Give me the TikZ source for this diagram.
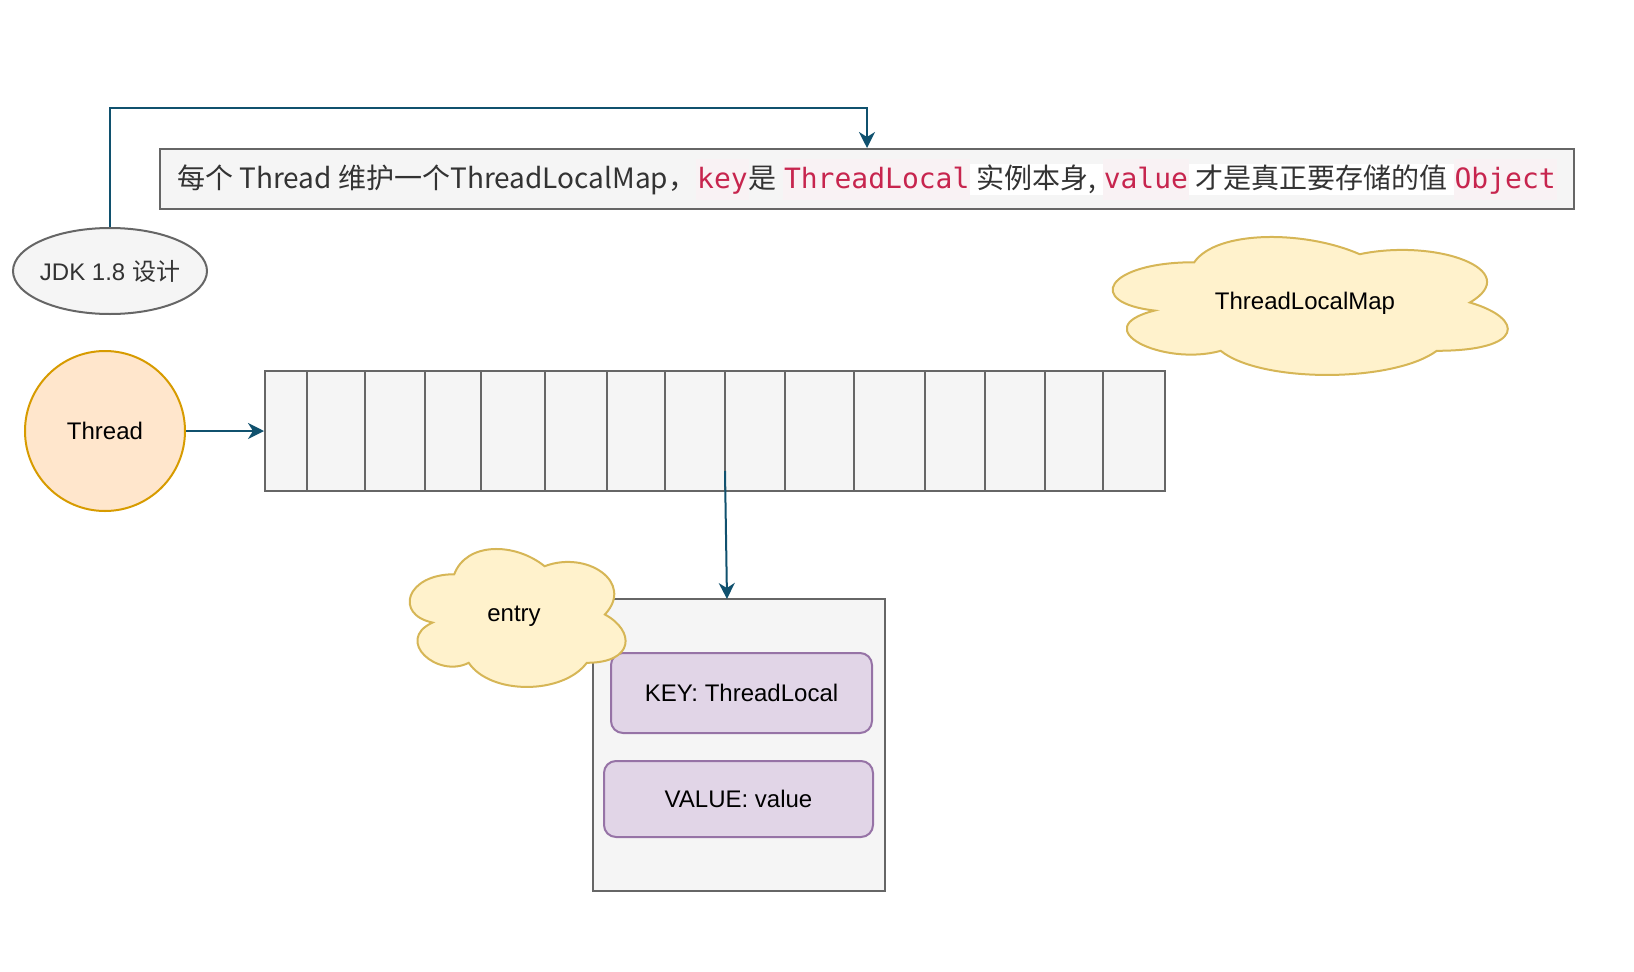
\documentclass[tikz,border=0pt]{standalone}
\usepackage{fontspec}
\setmainfont{Liberation Sans}
\newfontfamily\cjk{Noto Sans CJK SC}
\newfontfamily\codefont{DejaVu Sans Mono}
\usepackage{xcolor}
\usepackage{tikz}
\usetikzlibrary{shapes}
\usetikzlibrary{arrows.meta}

\definecolor{linkblue}{HTML}{10516E}
\definecolor{boxgray}{HTML}{F5F5F5}
\definecolor{edgegray}{HTML}{666666}
\definecolor{textgray}{HTML}{333333}
\definecolor{threadfill}{HTML}{FFE6CC}
\definecolor{threadedge}{HTML}{D79B00}
\definecolor{cloudfill}{HTML}{FFF2CC}
\definecolor{cloudedge}{HTML}{D6B656}
\definecolor{slotfill}{HTML}{E1D5E7}
\definecolor{slotedge}{HTML}{9673A6}
\definecolor{codered}{HTML}{C7254E}
\definecolor{codebg}{HTML}{F9F2F4}

\newcommand{\codetxt}[1]{{\setlength{\fboxsep}{0pt}\colorbox{codebg}{\rule[-11pt]{0pt}{41pt}\kern1pt\codefont\color{codered}#1\kern1pt}}}
\newcommand{\hltxt}[1]{{\setlength{\fboxsep}{0pt}\colorbox{white}{\rule[-6pt]{0pt}{31pt}\cjk #1}}}

% x0, y0, w, h of the cloud's cell
\newcommand{\cloudshape}[4]{%
    \begin{scope}[shift = {(#1, #2)}, x = #3pt, y = -#4pt]
        \filldraw[cloudline] (0.25, 0.25) .. controls (0.05, 0.25) and (0, 0.5) .. (0.16, 0.55)
            .. controls (0, 0.66) and (0.18, 0.9) .. (0.31, 0.8)
            .. controls (0.4, 1) and (0.7, 1) .. (0.8, 0.8)
            .. controls (1, 0.8) and (1, 0.6) .. (0.875, 0.5)
            .. controls (1, 0.3) and (0.8, 0.1) .. (0.625, 0.2)
            .. controls (0.5, 0.05) and (0.3, 0.05) .. (0.25, 0.25) -- cycle;
    \end{scope}}

\tikzset{
    graybox/.style = {draw = edgegray, fill = boxgray, line width = 2pt, inner sep = 0pt},
    cloudline/.style = {draw = cloudedge, fill = cloudfill, line width = 2pt},
    field/.style = {draw = slotedge, fill = slotfill, line width = 2pt, rounded corners = 12pt,
        inner sep = 0pt, font = \fontsize{24}{28}\selectfont},
    link/.style = {draw = linkblue, line width = 2pt, -{Stealth[length = 16pt, width = 16pt, inset = 5pt]}},
}

\begin{document}
\begin{tikzpicture}[x = 1pt, y = -1pt]
                    \useasboundingbox (0, 0) rectangle (1634, 972);

                    \node[graybox, minimum width = 1414pt, minimum height = 60pt, text = textgray,
                        font = \fontsize{28}{34}\selectfont] (note) at (867, 179)
                        {{\cjk 每个 Thread 维护一个ThreadLocalMap，}\codetxt{key}{\cjk 是 }\codetxt{ThreadLocal}\hltxt{ 实例本身, }\codetxt{value}\hltxt{ 才是真正要存储的值 }\codetxt{Object}};
                    \node[graybox, ellipse, inner xsep = -6pt, minimum width = 194pt, minimum height = 86pt, text = textgray,
                        font = \fontsize{24}{28}\selectfont] (jdk) at (110, 271) {JDK 1.8 {\cjk 设计}};

                    \node[circle, draw = threadedge, fill = threadfill, line width = 2pt, minimum size = 160pt,
                        inner sep = 0pt, font = \fontsize{24}{28}\selectfont] (thread) at (105, 431) {Thread};
                    \node[graybox, minimum width = 900pt, minimum height = 120pt] (map) at (715, 431) {};
                    \foreach \x in {307, 365, 425, 481, 545, 607, 665, 725, 785, 854, 925, 985, 1045, 1103}
                        \draw[edgegray, line width = 2pt] (\x, 371) -- (\x, 491);

                    \cloudshape{1084}{222}{441}{161}
                    \node[font = \fontsize{24}{28}\selectfont] (mapname) at (1305, 303) {ThreadLocalMap};

                    \node[graybox, minimum width = 292pt, minimum height = 292pt] (entry) at (739, 745) {};
                    \node[field, minimum width = 261pt, minimum height = 80pt] (key) at (741.5, 693) {KEY: ThreadLocal};
                    \node[field, minimum width = 269pt, minimum height = 76pt] (val) at (738.5, 799) {VALUE: value};

                    \cloudshape{394}{534}{241}{161}
                    \node[font = \fontsize{24}{28}\selectfont] (entryname) at (514, 616) {entry};

                    \coordinate (slot) at (725, 471);
                    \coordinate (slotend) at (727, 599);

                    \draw[link] (thread) -- (map);
                    \draw[link] (slot) -- (slotend);
                    \draw[link] (jdk.north) |- ([yshift = 40pt]note.north) -- (note.north);
                \end{tikzpicture}
\end{document}
